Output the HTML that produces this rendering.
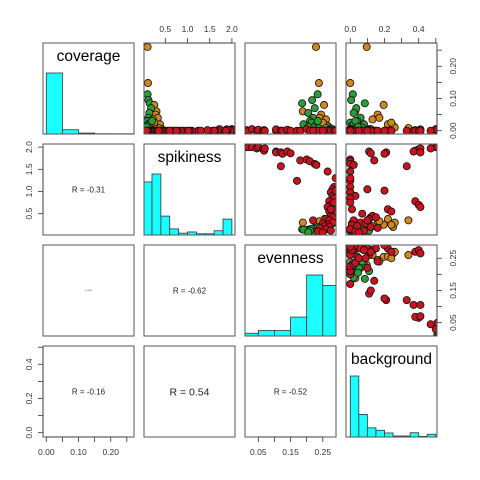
<!DOCTYPE html>
<html><head><meta charset="utf-8">
<style>
html,body{margin:0;padding:0;background:#fff;}
svg{display:block;font-family:"Liberation Sans",Arial,sans-serif;}
</style></head>
<body>
<svg id="chart" width="480" height="480" viewBox="0 0 480 480"></svg>
<script>
// ---- data ----
const varNames = ["coverage","spikiness","evenness","background"];
const varLo = [-0.0102, 0.02, 0.0087, -0.025];
const varHi = [0.2722, 2.07, 0.291, 0.507];
const corrLabels = {"1-0":"R = -0.31","2-0":"R = 0.000","2-1":"R = -0.62","3-0":"R = -0.16","3-1":"R = 0.54","3-2":"R = -0.52"};
const corrSizes = {"1-0":8,"2-0":1.5,"2-1":8,"3-0":8,"3-1":10.5,"3-2":8};
// histogram breaks and relative heights
const histBreaks = [
  [0,0.05,0.1,0.15,0.2,0.25,0.3],
  [0,0.2,0.4,0.6,0.8,1.0,1.2,1.4,1.6,1.8,2.0],
  [0,0.05,0.1,0.15,0.2,0.25,0.3],
  [0,0.05,0.1,0.15,0.2,0.25,0.3,0.35,0.4,0.45,0.5]
];
const histHeights = [
  [1,0.07,0.015,0.005,0.004,0.004],
  [0.87,1,0.31,0.1,0.03,0.05,0.02,0.02,0.07,0.26],
  [0.045,0.09,0.09,0.31,1,0.83],
  [1,0.37,0.15,0.11,0.066,0.016,0.016,0.07,0.01,0.045]
];
// observations: coverage, spikiness, evenness, background
const coverage = [0.26,0.148,0.113,0.095,0.085,0.08,0.06,0.05,0.07,0.055,0.04,0.04,0.03,0.035,0.025,0.02,0.02,0.015,0.01,0.015,0.01,0.01,0.005,0.005,0.02,0.025,0.008,0.005,0.03,0.012,
 0.002,0,0.005,0,0.003,0,0.002,0,0,0.004,0,0,0,0.003,0,0,0,0.005,0,0,0,0.002,0,0,0,0,0,0,0,0,0,0,0,0,0,0,0,0,0,0,0,0,0,0,0,0,0,0,0,0,0,0];
const spikiness = [0.10,0.11,0.10,0.12,0.15,0.25,0.30,0.28,0.18,0.14,0.33,0.12,0.10,0.22,0.16,0.11,0.38,0.13,0.09,0.20,0.17,0.30,0.12,0.42,0.14,0.25,0.35,0.28,0.20,0.08,
 2.0,2.0,2.0,1.97,2.0,1.95,1.92,1.97,1.90,1.88,1.57,1.88,1.85,1.90,1.86,1.24,1.70,1.72,1.68,1.62,1.60,1.45,1.30,1.10,1.05,0.98,0.90,0.85,0.78,0.70,0.65,0.60,0.55,0.50,0.45,0.42,0.38,0.35,0.30,0.28,0.25,0.22,0.20,0.18,0.15,0.12,0.10,0.08,0.35,0.60,0.75,1.02];
const evenness = [0.229,0.238,0.234,0.217,0.186,0.254,0.188,0.245,0.225,0.205,0.24,0.22,0.21,0.26,0.215,0.23,0.255,0.20,0.22,0.265,0.24,0.27,0.21,0.275,0.19,0.25,0.26,0.28,0.235,0.205,
 0.012,0.02,0.03,0.045,0.05,0.065,0.068,0.07,0.105,0.105,0.12,0.12,0.125,0.14,0.15,0.17,0.18,0.20,0.21,0.225,0.23,0.265,0.29,0.285,0.28,0.275,0.28,0.285,0.27,0.275,0.265,0.28,0.27,0.285,0.275,0.28,0.26,0.27,0.28,0.25,0.265,0.255,0.27,0.24,0.26,0.275,0.235,0.25,0.22,0.275,0.285,0.29];
const background = [0.096,0.0,0.015,0.005,0.085,0.195,0.03,0.16,0.035,0.02,0.17,0.06,0.04,0.13,0.0,0.08,0.22,0.01,0.05,0.25,0.07,0.26,0.11,0.12,0.02,0.24,0.34,0.01,0.03,0.045,
 0.51,0.51,0.50,0.47,0.51,0.40,0.38,0.41,0.37,0.41,0.33,0.21,0.20,0.11,0.12,0.0,0.14,0.0,0.0,0.0,0.02,0.0,0.0,0.0,0.1,0.0,0.03,0.0,0.38,0.40,0.41,0.22,0.24,0.07,0.13,0.15,0.11,0.02,0.06,0.09,0.01,0.04,0.12,0.16,0.0,0.08,0.03,0.05,0.1,0.01,0.0,0.2];
const groups = ["o","o","g","g","g","o","o","o","g","g","o","g","g","o","g","g","o","g","g","o","g","o","g","o","g","o","o","o","g","g",
 "r","r","r","r","r","r","r","r","r","r","r","r","r","r","r","r","r","r","r","r","r","r","r","r","r","r","r","r","r","r","r","r","r","r","r","r","r","r","r","r","r","r","r","r","r","r","r","r","r","r","r","r"];
const groupColors = {r:"#c8141e", o:"#d2861e", g:"#2e9b3a"};
// axis ticks
const axisTicks = [[0,0.05,0.1,0.15,0.2,0.25],[0.5,1.0,1.5,2.0],[0.05,0.1,0.15,0.2,0.25],[0,0.1,0.2,0.3,0.4,0.5]];
const axisLabels = [["0.00","","0.10","","0.20",""],["0.5","1.0","1.5","2.0"],["0.05","","0.15","","0.25"],["0.0","","0.2","","0.4",""]];

// ---- layout ----
const NS="http://www.w3.org/2000/svg";
const svg=document.getElementById("chart");
const P=[43,144,245,346], S=91;
const cols=[coverage,spikiness,evenness,background];
function sx(v,j){return P[j]+(v-varLo[j])/(varHi[j]-varLo[j])*S;}
function sy(v,i){return P[i]+S-(v-varLo[i])/(varHi[i]-varLo[i])*S;}
function mk(tag,attrs,parent){const e=document.createElementNS(NS,tag);for(const k in attrs)e.setAttribute(k,attrs[k]);(parent||svg).appendChild(e);return e;}

for(let i=0;i<4;i++){for(let j=0;j<4;j++){
  const g=mk("g",{});
  
  
  const x0=P[j],y0=P[i];
  const cp="cp"+i+j;
  const clip=mk("clipPath",{id:cp},g);mk("rect",{x:x0,y:y0,width:S,height:S},clip);
  const inner=mk("g",{"clip-path":"url(#"+cp+")"},g);
  if(i===j){
    const br=histBreaks[i],hh=histHeights[i];
    for(let k=0;k<hh.length;k++){
      const xa=sx(br[k],j),xb=sx(br[k+1],j),h=hh[k]*61;
      const r=mk("rect",{x:xa,y:y0+S-h,width:xb-xa,height:h,fill:"#1affff",stroke:"#333","stroke-width":0.8},inner);
      
      
    }
    const t=mk("text",{x:x0+S/2,y:y0+18,"text-anchor":"middle","font-size":15.5,fill:"#000"},g);
    t.textContent=varNames[i];
    
    
  } else if(j>i){
    for(let n=0;n<groups.length;n++){
      const c=mk("circle",{cx:sx(cols[j][n],j),cy:sy(cols[i][n],i),r:3.6,fill:groupColors[groups[n]],stroke:"#111","stroke-width":0.8},inner);
      
      
    }
  } else {
    const key=i+"-"+j;
    const t=mk("text",{x:x0+S/2,y:y0+S/2+corrSizes[key]*0.36,"text-anchor":"middle","font-size":corrSizes[key],fill:"#222"},g);
    t.textContent=corrLabels[key];
    
    
  }
  const b=mk("rect",{x:x0,y:y0,width:S,height:S,fill:"none",stroke:"#555","stroke-width":1},g);
  
  
}}

// axes
function axis(v,side,pos){
  const g=mk("g",{stroke:"#333","stroke-width":0.8});
  
  
  const tk=axisTicks[v],lb=axisLabels[v];
  const horiz=(side==="top"||side==="bottom");
  const f=horiz?(t=>sx(t,v)):(t=>sy(t,v));
  const a=f(tk[0]),b=f(tk[tk.length-1]);
  const edge= side==="top"?P[0]: side==="bottom"?P[3]+S: side==="left"?P[0]+0: P[3]+S;
  let e=edge;
  if(side==="left") e=P[0];
  if(horiz) mk("line",{x1:a,x2:b,y1:e,y2:e},g); else mk("line",{x1:e,x2:e,y1:a,y2:b},g);
  for(let k=0;k<tk.length;k++){
    const p=f(tk[k]);
    if(side==="top") mk("line",{x1:p,x2:p,y1:e,y2:e-5},g);
    if(side==="bottom") mk("line",{x1:p,x2:p,y1:e,y2:e+5},g);
    if(side==="left") mk("line",{x1:e,x2:e-5,y1:p,y2:p},g);
    if(side==="right") mk("line",{x1:e,x2:e+5,y1:p,y2:p},g);
    if(!lb[k]) continue;
    let t;
    if(side==="top") t=mk("text",{x:p,y:32,"text-anchor":"middle"},svg);
    if(side==="bottom") t=mk("text",{x:p,y:455,"text-anchor":"middle"},svg);
    if(side==="left") t=mk("text",{x:0,y:0,"text-anchor":"middle",transform:"translate(32,"+p+") rotate(-90)"},svg);
    if(side==="right") t=mk("text",{x:0,y:0,"text-anchor":"middle",transform:"translate(456,"+p+") rotate(-90)"},svg);
    t.setAttribute("font-size","8.5");t.setAttribute("fill","#333");
    t.textContent=lb[k];
    
    
  }
}
function axisAt(v,side,rowOrCol){
  // place axis on the given panel edge
  const saveP=P.slice();
  axis(v,side);
}
// top axes: cols 1,3 ; bottom: cols 0,2 ; left rows 1,3 ; right rows 0,2
axis(1,"top");axis(3,"top");axis(0,"bottom");axis(2,"bottom");axis(1,"left");axis(3,"left");axis(0,"right");axis(2,"right");
</script>
<script>
// fix edges for left/right/top/bottom axes which all lie on the outer frame (already correct by construction)
</script>
</body></html>
